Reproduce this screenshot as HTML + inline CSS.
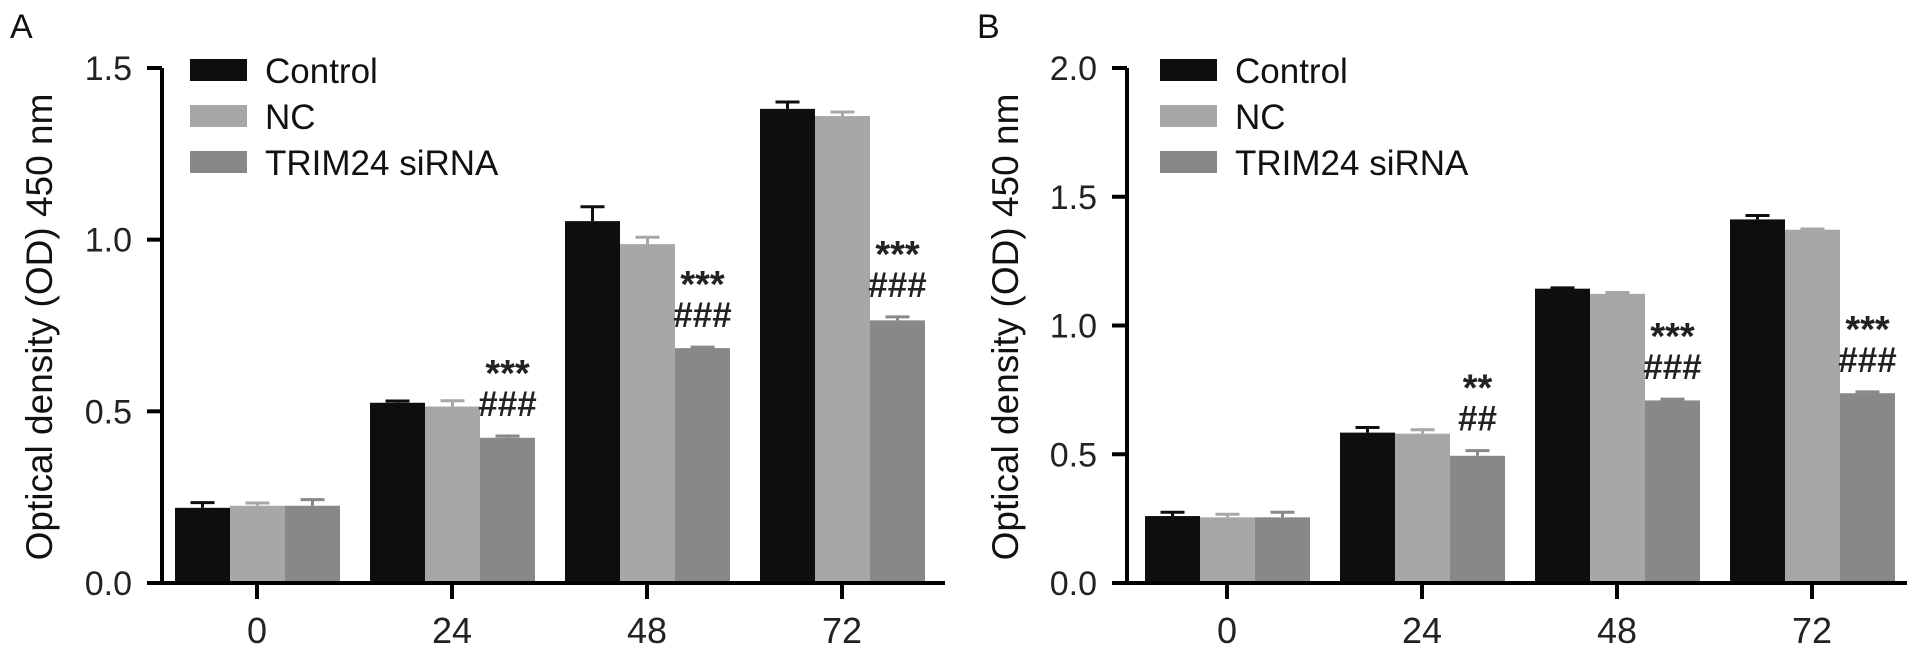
<!DOCTYPE html>
<html><head><meta charset="utf-8">
<style>
html,body{margin:0;padding:0;background:#fff;}
svg{display:block;font-family:"Liberation Sans",Arial,sans-serif;}
</style></head>
<body>
<svg id="chart" width="1923" height="654" viewBox="0 0 1923 654"></svg>
<script>
const categories = ["0","24","48","72"];
const seriesNames = ["Control","NC","TRIM24 siRNA"];
const colors = ["#0e0e0e","#a7a7a7","#888888"];
const aControl = [0.219,0.525,1.054,1.381];
const aNC = [0.225,0.514,0.987,1.360];
const aSi = [0.225,0.423,0.684,0.765];
const aControlErr = [0.015,0.005,0.042,0.020];
const aNCErr = [0.008,0.017,0.020,0.012];
const aSiErr = [0.018,0.005,0.003,0.010];
const aTicks = [0,0.5,1.0,1.5];
const aTickLabels = ["0.0","0.5","1.0","1.5"];
const aStars = ["","***","***","***"];
const aHashes = ["","###","###","###"];
const bControl = [0.260,0.584,1.143,1.412];
const bNC = [0.255,0.580,1.123,1.372];
const bSi = [0.255,0.494,0.709,0.737];
const bControlErr = [0.015,0.020,0.003,0.015];
const bNCErr = [0.012,0.015,0.005,0.003];
const bSiErr = [0.020,0.020,0.005,0.005];
const bTicks = [0,0.5,1.0,1.5,2.0];
const bTickLabels = ["0.0","0.5","1.0","1.5","2.0"];
const bStars = ["","**","***","***"];
const bHashes = ["","##","###","###"];

const svg = document.getElementById('chart');
const NS = 'http://www.w3.org/2000/svg';
function mk(tag, attrs, parent){
  const e = document.createElementNS(NS, tag);
  for (const k in attrs) e.setAttribute(k, attrs[k]);
  (parent||svg).appendChild(e);
  return e;
}

function panel(opt){
  const g = mk('g', {});
  
  
  const axisX = opt.axisX, y0 = 583, yTop = 68;
  const yScale = v => y0 - (v / opt.max) * (y0 - yTop);
  const xCenter = i => opt.c0 + i * 195;
  const barW = 55;
  const offs = [-82, -27, 28];

  const lt = mk('text', {x: opt.letterX, y: 38, 'font-size': 34, fill: '#111'}, g);
  lt.textContent = opt.letter;
  
  

  const yt = mk('text', {x: 0, y: 0, 'font-size': 37, fill: '#111', 'text-anchor': 'middle',
    transform: `translate(${opt.titleX},327) rotate(-90)`}, g);
  yt.textContent = 'Optical density (OD) 450 nm';
  
  

  const series = [opt.control, opt.nc, opt.si];
  const errs = [opt.controlErr, opt.ncErr, opt.siErr];
  for (let s = 0; s < 3; s++) {
    for (let i = 0; i < categories.length; i++) {
      const x = xCenter(i) + offs[s];
      const v = series[s][i], e = errs[s][i];
      const ytop = yScale(v), yerr = yScale(v + e);
      const eb = mk('path', {d: `M${x+barW/2},${ytop} V${yerr} M${x+barW/2-12},${yerr} H${x+barW/2+12}`,
        stroke: colors[s], 'stroke-width': 3, fill: 'none'}, g);
      
      
      const r = mk('rect', {x: x, y: ytop, width: barW, height: y0 - ytop, fill: colors[s]}, g);
      
      
    }
  }
  for (let i = 0; i < categories.length; i++) {
    if (!opt.stars[i]) continue;
    const cx = xCenter(i) + offs[2] + barW/2;
    const top = yScale(opt.si[i] + opt.siErr[i]);
    const h = mk('text', {x: cx, y: top - 20, 'font-size': 35, 'font-weight': 'bold', fill: '#222', 'text-anchor': 'middle'}, g);
    h.textContent = opt.hashes[i];
    
    
    const st = mk('text', {x: cx, y: top - 50, 'font-size': 38, 'font-weight': 'bold', fill: '#222', 'text-anchor': 'middle'}, g);
    st.textContent = opt.stars[i];
    
    
  }
  const ya = mk('path', {d: `M${axisX},${yTop} V${y0+2}`, stroke: '#000', 'stroke-width': 4, fill: 'none'}, g);
  
  
  opt.ticks.forEach((t, k) => {
    const y = yScale(t);
    const tk = mk('path', {d: `M${axisX-15},${y} H${axisX}`, stroke: '#000', 'stroke-width': 4}, g);
    
    
    const tl = mk('text', {x: axisX - 30, y: y + 12, 'font-size': 34, fill: '#222', 'text-anchor': 'end'}, g);
    tl.textContent = opt.tickLabels[k];
    
    
  });
  const xa = mk('path', {d: `M${axisX-15},${y0} H${opt.xEnd}`, stroke: '#000', 'stroke-width': 4}, g);
  
  
  categories.forEach((c, i) => {
    const x = xCenter(i);
    const tk = mk('path', {d: `M${x},${y0} V${y0+16}`, stroke: '#000', 'stroke-width': 4}, g);
    
    
    const tl = mk('text', {x: x, y: 643, 'font-size': 36, fill: '#222', 'text-anchor': 'middle'}, g);
    tl.textContent = c;
    
    
  });
  const legYs = [70, 116, 162];
  seriesNames.forEach((n, s) => {
    const lg = mk('g', {}, g);
    
    
    mk('rect', {x: opt.legX, y: legYs[s] - 11, width: 57, height: 22, fill: colors[s]}, lg);
    const t = mk('text', {x: opt.legX + 75, y: legYs[s] + 13, 'font-size': 35, fill: '#111'}, lg);
    t.textContent = n;
  });
}

panel({letter:'A', letterX:10, titleX:52, axisX:162, c0:257, xEnd:945, max:1.5,
  control:aControl, nc:aNC, si:aSi, controlErr:aControlErr, ncErr:aNCErr, siErr:aSiErr,
  ticks:aTicks, tickLabels:aTickLabels, stars:aStars, hashes:aHashes, legX:190});
panel({letter:'B', letterX:977, titleX:1018, axisX:1127, c0:1227, xEnd:1907, max:2.0,
  control:bControl, nc:bNC, si:bSi, controlErr:bControlErr, ncErr:bNCErr, siErr:bSiErr,
  ticks:bTicks, tickLabels:bTickLabels, stars:bStars, hashes:bHashes, legX:1160});
</script>
</body></html>
